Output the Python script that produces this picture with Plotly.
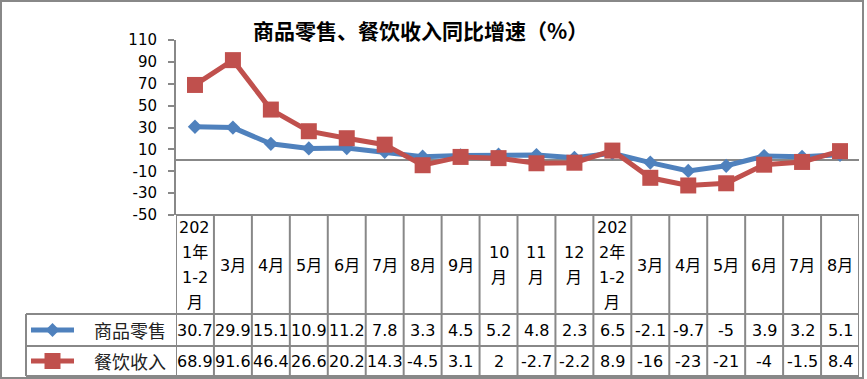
import plotly.graph_objects as go

# ---- data ----
categories = ["202<br>1年<br>1-2<br>月", "3月", "4月", "5月", "6月", "7月", "8月", "9月",
              "10<br>月", "11<br>月", "12<br>月", "202<br>2年<br>1-2<br>月",
              "3月", "4月", "5月", "6月", "7月", "8月"]
retail = [30.7, 29.9, 15.1, 10.9, 11.2, 7.8, 3.3, 4.5, 5.2, 4.8, 2.3, 6.5,
          -2.1, -9.7, -5, 3.9, 3.2, 5.1]
catering = [68.9, 91.6, 46.4, 26.6, 20.2, 14.3, -4.5, 3.1, 2, -2.7, -2.2, 8.9,
            -16, -23, -21, -4, -1.5, 8.4]
series_names = ["商品零售", "餐饮收入"]
title_text = "商品零售、餐饮收入同比增速（%）"
y_ticks = [110, 90, 70, 50, 30, 10, -10, -30, -50]

BLUE = "#4F81BD"
RED = "#C0504D"
GRID = "#888888"
W, H = 867, 379
L, R, T, B = 176, 859, 40, 215
n = len(categories)

def px(x):
    return (x - L) / (R - L)

def py(y):
    return (B - y) / (B - T)

FONT = "DejaVu Sans, Noto Sans CJK SC, sans-serif"

fig = go.Figure()
fig.add_trace(go.Scatter(x=list(range(n)), y=retail, mode="lines+markers", name=series_names[0],
                         line=dict(color=BLUE, width=5),
                         marker=dict(symbol="diamond", size=11, color=BLUE, line=dict(width=0))))
fig.add_trace(go.Scatter(x=list(range(n)), y=catering, mode="lines+markers", name=series_names[1],
                         line=dict(color=RED, width=5),
                         marker=dict(symbol="square", size=16, color=RED, line=dict(width=0))))

shapes = []
def hline(y, x0, x1):
    shapes.append(dict(type="line", xref="paper", yref="paper", x0=px(x0), x1=px(x1), y0=py(y), y1=py(y),
                       line=dict(color=GRID, width=2)))
def vline_px(x, y0, y1):
    shapes.append(dict(type="line", xref="paper", yref="paper", x0=px(x), x1=px(x), y0=py(y0), y1=py(y1),
                       line=dict(color=GRID, width=2)))

# table lines
ROW1, ROW2, BOT = 314, 346, 376
for k in range(n + 1):
    shapes.append(dict(type="line", xref="x", yref="paper", x0=k - 0.5, x1=k - 0.5, y0=py(B), y1=py(BOT),
                       line=dict(color=GRID, width=2)))
hline(B, L, R)
hline(ROW1, 26, R)
hline(ROW2, 26, R)
hline(BOT, 26, R)
vline_px(26, ROW1, BOT)
# outer border
shapes.append(dict(type="rect", xref="paper", yref="paper", x0=px(1), x1=px(863), y0=py(1), y1=py(378),
                   line=dict(color=GRID, width=2)))

# legend swatches
for i, (col, yc) in enumerate([(BLUE, (ROW1 + ROW2) / 2), (RED, (ROW2 + BOT) / 2)]):
    hl = dict(type="line", xref="paper", yref="paper", x0=px(31), x1=px(74), y0=py(yc), y1=py(yc),
              line=dict(color=col, width=5))
    shapes.append(hl)
    cx = 52.5
    if i == 0:
        d = 7
        path = (f"M {px(cx-d)} {py(yc)} L {px(cx)} {py(yc-d)} L {px(cx+d)} {py(yc)} "
                f"L {px(cx)} {py(yc+d)} Z")
    else:
        d = 8
        path = (f"M {px(cx-d)} {py(yc-d)} L {px(cx+d)} {py(yc-d)} L {px(cx+d)} {py(yc+d)} "
                f"L {px(cx-d)} {py(yc+d)} Z")
    shapes.append(dict(type="path", xref="paper", yref="paper", path=path,
                       fillcolor=col, line=dict(color=col, width=0)))

annotations = []
# title
annotations.append(dict(text=f"<b>{title_text}</b>", xref="paper", yref="paper", x=px(420), y=py(30),
                        showarrow=False, xanchor="center", yanchor="middle",
                        font=dict(family="Noto Sans CJK SC", size=21, color="black")))
# header labels
HC, LS = 265, 25
for k, lab in enumerate(categories):
    lines = lab.split("<br>")
    m = len(lines)
    for j, t in enumerate(lines):
        yc = HC + (j - (m - 1) / 2) * LS
        annotations.append(dict(text=t, xref="x", yref="paper", x=k, y=py(yc), showarrow=False,
                                xanchor="center", yanchor="middle",
                                font=dict(family=FONT, size=16, color="black")))
# value rows
for vals, yc in [(retail, (ROW1 + ROW2) / 2), (catering, (ROW2 + BOT) / 2)]:
    for k, v in enumerate(vals):
        annotations.append(dict(text=f"{v:g}", xref="x", yref="paper", x=k, y=py(yc), showarrow=False,
                                xanchor="center", yanchor="middle",
                                font=dict(family=FONT, size=16, color="black")))
# legend names
for name, yc in zip(series_names, [(ROW1 + ROW2) / 2, (ROW2 + BOT) / 2]):
    annotations.append(dict(text=name, xref="paper", yref="paper", x=px(168), y=py(yc), showarrow=False,
                            xanchor="right", yanchor="middle",
                            font=dict(family="Noto Sans CJK SC", size=18, color="#222222")))

fig.update_layout(
    width=W, height=H, autosize=False,
    margin=dict(l=L, r=W - R, t=T, b=H - B, pad=0),
    paper_bgcolor="white", plot_bgcolor="white",
    showlegend=False,
    shapes=shapes, annotations=annotations,
    xaxis=dict(range=[-0.5, n - 0.5], showticklabels=False, showgrid=False, zeroline=False,
               showline=False, ticks=""),
    yaxis=dict(range=[-50, 110], tickvals=y_ticks, ticktext=[str(v) for v in y_ticks],
               showgrid=False, zeroline=True, zerolinecolor=GRID, zerolinewidth=2,
               showline=True, linecolor=GRID, linewidth=2, ticks="outside", ticklen=6,
               tickcolor=GRID, tickwidth=2, ticklabelstandoff=8,
               tickfont=dict(family=FONT, size=15, color="black")),
)
fig.write_html("out.html", config={"displayModeBar": False},
               post_script="document.body.style.margin='0';document.body.style.overflow='hidden';")
